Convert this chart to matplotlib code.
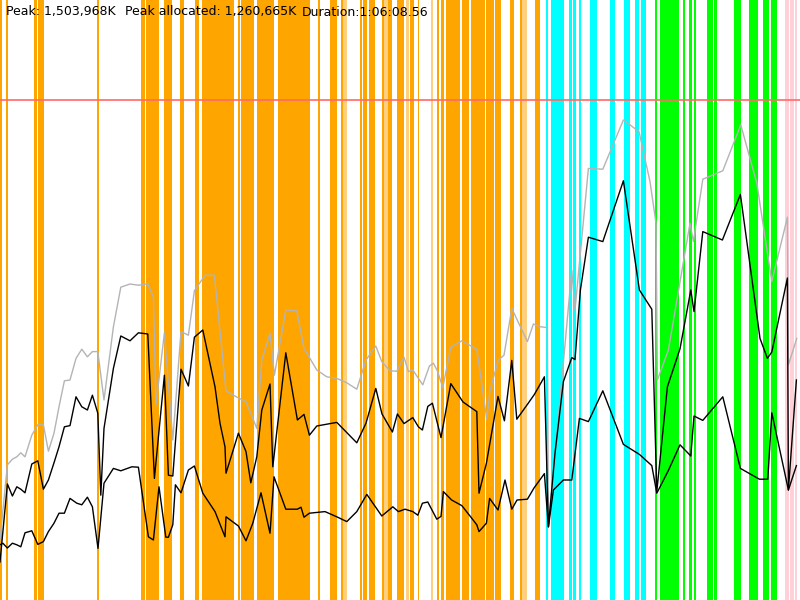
import matplotlib
matplotlib.use('Agg')
import matplotlib.pyplot as plt

# time in seconds, memory in MB
gray_t = [0, 37, 62, 84, 104, 125, 159, 189, 217, 242, 270, 295, 322, 350, 380, 409, 437, 462, 489, 520,
          567, 604, 650, 692, 739, 767, 780, 822, 864, 905, 942, 972, 1025, 1072, 1130, 1167, 1197, 1230,
          1284, 1309, 1350, 1372, 1429, 1484, 1520, 1584, 1634, 1684, 1734, 1784, 1830, 1879, 1909, 1950,
          1984, 2020, 2042, 2064, 2114, 2147, 2167, 2187, 2214, 2254, 2309, 2384, 2434, 2450, 2492, 2520,
          2559, 2637, 2667, 2704, 2737, 2742, 2859, 2875, 2942, 3014, 3117, 3195, 3250, 3280, 3287, 3342,
          3450, 3467, 3514, 3614, 3704, 3784, 3859, 3937, 3942, 3984]
gray_mb = [150, 338, 352, 358, 368, 358, 412, 438, 438, 372, 417, 483, 548, 550, 604, 627, 608, 621, 621, 500,
           683, 782, 790, 787, 790, 758, 488, 668, 400, 671, 662, 773, 812, 812, 523, 512, 504, 496,
           429, 600, 667, 562, 725, 723, 629, 575, 558, 554, 543, 527, 600, 635, 596, 573,
           572, 607, 571, 575, 538, 585, 592, 573, 531, 632, 648, 627, 452, 525, 600, 612,
           729, 646, 690, 683, 681, 183, 825, 725, 1079, 1077, 1200, 1171, 1046, 942, 550, 625,
           942, 896, 1052, 1073, 1188, 1042, 796, 957, 588, 654]

used_t = [0, 37, 62, 84, 104, 125, 159, 189, 217, 242, 270, 295, 322, 350, 380, 409, 437, 462, 489, 504,
          520, 567, 604, 650, 692, 739, 772, 822, 842, 864, 905, 942, 972, 1014, 1075, 1100, 1125, 1130,
          1192, 1230, 1254, 1284, 1309, 1350, 1364, 1429, 1487, 1520, 1547, 1584, 1684, 1784, 1830, 1879,
          1910, 1962, 1987, 2020, 2064, 2092, 2112, 2139, 2162, 2205, 2254, 2315, 2384, 2395, 2432, 2490,
          2522, 2559, 2584, 2637, 2672, 2722, 2742, 2775, 2817, 2859, 2875, 2902, 2942, 3014, 3117, 3197,
          3259, 3284, 3337, 3400, 3454, 3470, 3514, 3612, 3702, 3800, 3837, 3859, 3937, 3942, 3982]
used_mb = [95, 290, 260, 283, 277, 268, 340, 348, 277, 300, 343, 383, 433, 436, 508, 483, 475, 512, 467, 262,
           429, 579, 660, 648, 668, 665, 304, 562, 312, 310, 577, 535, 657, 675, 533, 442, 383, 317,
           417, 371, 293, 358, 475, 540, 333, 618, 450, 464, 412, 435, 444, 393, 442, 529,
           465, 420, 465, 441, 456, 433, 425, 484, 492, 406, 541, 495, 471, 267, 342, 509,
           448, 599, 452, 489, 514, 558, 183, 367, 546, 606, 601, 775, 907, 896, 1048, 775,
           727, 271, 533, 628, 775, 721, 921, 900, 1014, 654, 604, 620, 805, 275, 550]

live_t = [0, 14, 37, 62, 84, 104, 125, 159, 189, 217, 242, 270, 295, 322, 350, 384, 409, 437, 462, 490,
          520, 567, 604, 659, 692, 742, 767, 795, 829, 842, 864, 877, 905, 942, 972, 1014, 1075, 1125,
          1130, 1192, 1230, 1264, 1305, 1350, 1370, 1429, 1487, 1505, 1520, 1547, 1625, 1684, 1734, 1784,
          1834, 1909, 1964, 1992, 2025, 2064, 2089, 2112, 2139, 2184, 2205, 2217, 2258, 2309, 2350, 2384,
          2395, 2432, 2448, 2490, 2525, 2559, 2585, 2637, 2670, 2722, 2742, 2767, 2817, 2859, 2897, 2942,
          3014, 3117, 3197, 3259, 3284, 3342, 3400, 3454, 3470, 3514, 3614, 3702, 3797, 3839, 3859, 3942, 3982]
live_mb = [138, 142, 130, 142, 138, 133, 168, 173, 139, 146, 171, 192, 217, 217, 254, 242, 238, 257, 233, 129,
           292, 329, 323, 333, 332, 158, 150, 283, 157, 157, 188, 288, 268, 325, 335, 267, 221, 158,
           208, 185, 148, 192, 268, 167, 308, 227, 227, 232, 207, 217, 221, 208, 196, 221,
           264, 210, 233, 221, 227, 221, 212, 242, 245, 202, 209, 271, 250, 236, 210, 188,
           171, 192, 254, 225, 300, 227, 250, 252, 280, 316, 183, 275, 300, 300, 454, 446,
           523, 389, 364, 336, 267, 324, 388, 360, 460, 449, 508, 329, 302, 302, 468, 275, 336]

# collection events (start, end) in seconds
young_gc = [(0, 8), (30, 38), (170, 185), (190, 220), (485, 494), (705, 725), (732, 752), (758, 772),
            (777, 795), (820, 828), (832, 842), (845, 858), (902, 918), (977, 995), (1010, 1025),
            (1028, 1067), (1070, 1087), (1090, 1147), (1150, 1158), (1162, 1167), (1190, 1200),
            (1204, 1217), (1220, 1228), (1232, 1270), (1285, 1305), (1308, 1370), (1390, 1413),
            (1418, 1445), (1448, 1458), (1462, 1472), (1475, 1492), (1498, 1537), (1543, 1550),
            (1590, 1600), (1650, 1668), (1672, 1683), (1705, 1715), (1800, 1810), (1815, 1833),
            (1845, 1875), (1910, 1918), (1942, 1958), (1985, 2020), (2053, 2070), (2090, 2095),
            (2188, 2192), (2208, 2218), (2233, 2243), (2247, 2258), (2262, 2297), (2310, 2342),
            (2355, 2390), (2393, 2425), (2432, 2445), (2448, 2467), (2475, 2503), (2553, 2567),
            (2600, 2608), (2675, 2697)]
young_gc_short = [(1718, 1735), (1922, 1938), (2032, 2042), (2155, 2163), (2612, 2635)]
remark = [(2733, 2740), (2755, 2792), (2795, 2803), (2807, 2817), (2845, 2858), (2867, 2878),
          (2895, 2905), (2950, 2983), (3050, 3075), (3120, 3137), (3140, 3150), (3177, 3193),
          (3208, 3230)]
mixed_gc = [(3275, 3283), (3300, 3317), (3320, 3337), (3340, 3353), (3357, 3378), (3383, 3392),
            (3417, 3425), (3445, 3457), (3472, 3478), (3538, 3562), (3570, 3583), (3673, 3703),
            (3748, 3763), (3767, 3787), (3818, 3845), (3858, 3885)]
full_gc = [(3928, 3942), (3950, 3967), (3975, 3983)]

max_heap_mb = 1250

fig = plt.figure(figsize=(8, 6), dpi=100)
ax = fig.add_axes([0, 0, 1, 1])
ax.set_xlim(0, 4000)
ax.set_ylim(0, 1500)
ax.axis('off')

# tiny pad so the narrowest spans keep their full colour
pad = 1

def spans(events, colour):
    for start, end in events:
        ax.axvspan(start - pad, end + pad, color=colour, lw=0)

spans(young_gc, '#ffa500')
spans(young_gc_short, '#ffcf80')
spans(remark, '#00ffff')
spans(mixed_gc, '#00ff00')
spans(full_gc, '#ffd0d8')

ax.axhline(max_heap_mb, color='#ff6a6a', lw=1.2)

ax.plot(gray_t, gray_mb, color='#b4b4b4', lw=1)
ax.plot(used_t, used_mb, color='black', lw=1)
ax.plot(live_t, live_mb, color='black', lw=1)

fig.text(6 / 800, 1 - 12 / 600, 'Peak: 1,503,968K', fontsize=9, va='center')
fig.text(125 / 800, 1 - 12 / 600, 'Peak allocated: 1,260,665K', fontsize=9, va='center')
fig.text(302 / 800, 1 - 12 / 600, 'Duration:1:06:08.56', fontsize=9, va='center')

fig.savefig('out.png', dpi=100)
